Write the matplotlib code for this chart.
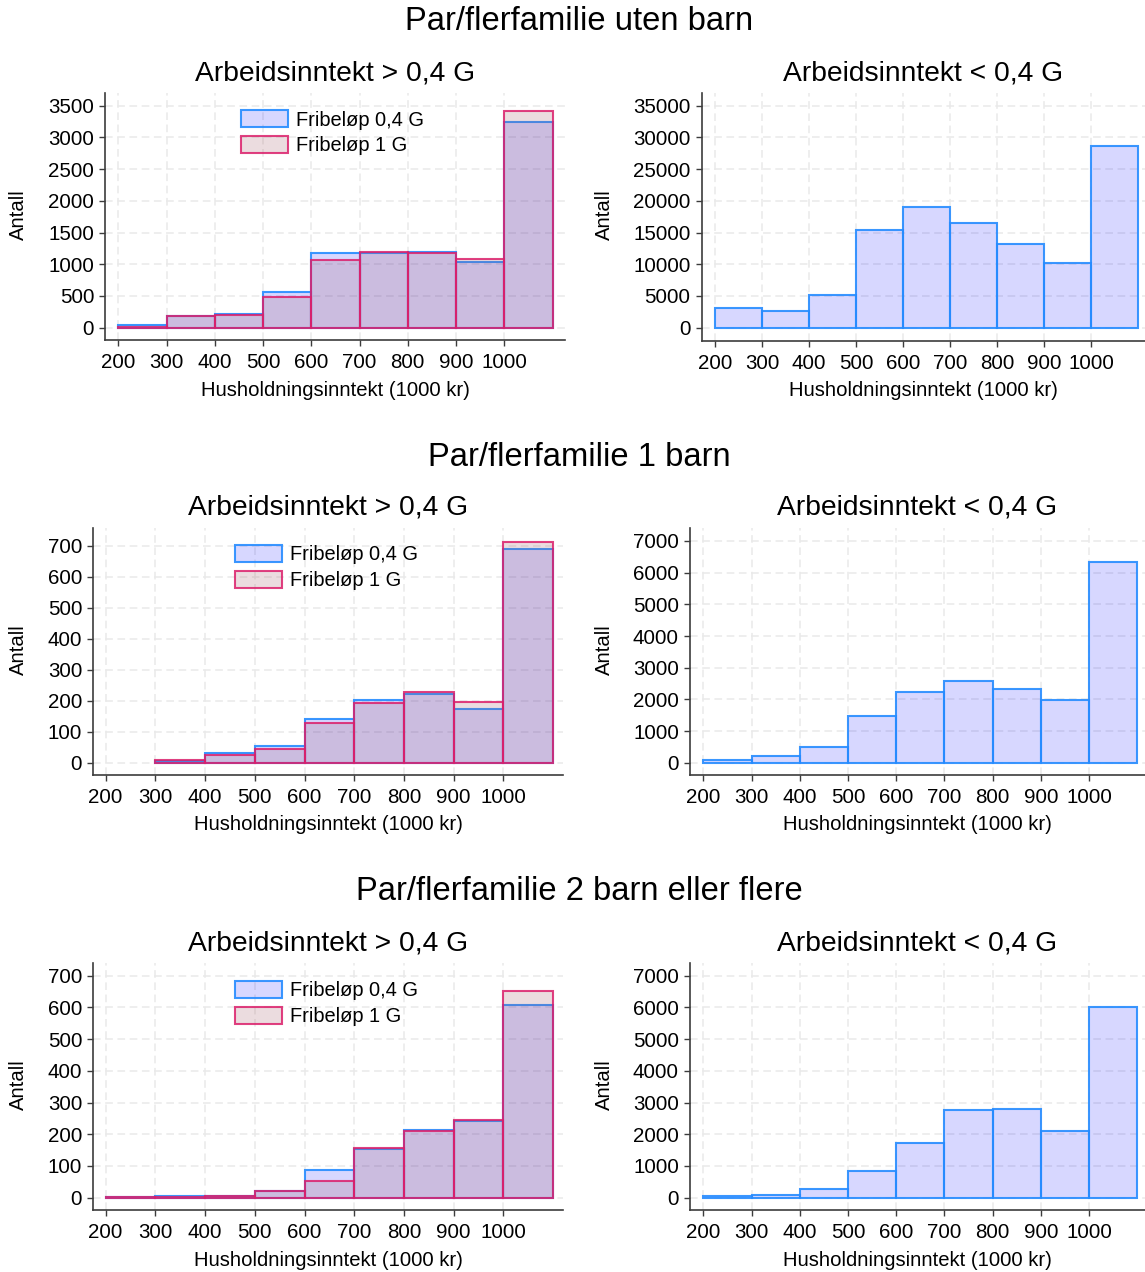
import matplotlib
matplotlib.use("Agg")
import matplotlib.pyplot as plt

plt.rcParams["font.family"] = ["Liberation Sans", "DejaVu Sans"]

W, H = 1145, 1272

# bin left edges (1000 kr), each bin 100 wide
bins = [200, 300, 400, 500, 600, 700, 800, 900, 1000]

# Par/flerfamilie uten barn
uten_hi_04 = [35, 185, 220, 568, 1178, 1185, 1199, 1041, 3244]
uten_hi_1 = [15, 185, 195, 483, 1067, 1190, 1178, 1088, 3417]
uten_lo = [3100, 2680, 5150, 15350, 19080, 16450, 13250, 10200, 28700]
# Par/flerfamilie 1 barn
b1_hi_04 = [0, 6, 30, 55, 140, 202, 220, 174, 688]
b1_hi_1 = [0, 8, 26, 44, 127, 191, 227, 197, 713]
b1_lo = [95, 200, 494, 1461, 2218, 2575, 2333, 1976, 6338]
# Par/flerfamilie 2 barn eller flere
b2_hi_04 = [3, 6, 4, 20, 86, 153, 215, 241, 609]
b2_hi_1 = [3, 2, 6, 20, 54, 158, 209, 245, 652]
b2_lo = [53, 84, 284, 851, 1713, 2775, 2806, 2102, 6022]

sections = ["Par/flerfamilie uten barn", "Par/flerfamilie 1 barn",
            "Par/flerfamilie 2 barn eller flere"]
sub_hi = "Arbeidsinntekt > 0,4 G"
sub_lo = "Arbeidsinntekt < 0,4 G"
lab04 = "Fribeløp 0,4 G"
lab1 = "Fribeløp 1 G"
xlab = "Husholdningsinntekt (1000 kr)"
ylab = "Antall"
xticks = [200, 300, 400, 500, 600, 700, 800, 900, 1000]

BLUE_FC = (0.0, 0.0, 1.0, 0.155)
BLUE_EC = (0.15, 0.55, 1.0, 0.9)
RED_FC = (0.62, 0.33, 0.38, 0.2)
RED_EC = (0.86, 0.12, 0.42, 0.85)
GRID = "#e9e9e9"
SPINE = "#3c3c3c"

fig = plt.figure(figsize=(W / 100, H / 100), dpi=100)


def box(l, r, t, b):
    return [l / W, 1 - b / H, (r - l) / W, (b - t) / H]


def fx(x):
    return x / W


def fy(y):
    return 1 - y / H


def hist(ax, vals, fc, ec, label):
    # empty bins are not drawn (no outline at zero)
    xs = [x for x, v in zip(bins, vals) if v > 0]
    vs = [v for v in vals if v > 0]
    return ax.bar(xs, vs, width=100, align="edge", facecolor=fc,
                  edgecolor=ec, linewidth=1.5, label=label)


# panels: pixel box, xlim, ylim, yticks, data
panels = [
    dict(box=(105.3, 565, 93.3, 340), xlim=(173, 1125.8), ylim=(-194, 3695),
         yt=range(0, 3501, 500), d=(uten_hi_04, uten_hi_1), title=sub_hi,
         ylx=18, leg=(241, 110)),
    dict(box=(701.7, 1145, 93.3, 340.7), xlim=(171.7, 1114.9), ylim=(-2050, 36955),
         yt=range(0, 35001, 5000), d=(uten_lo,), title=sub_lo, ylx=604),
    dict(box=(93.3, 563, 528, 775), xlim=(175.1, 1120), ylim=(-39.7, 757),
         yt=range(0, 701, 100), d=(b1_hi_04, b1_hi_1), title=sub_hi,
         ylx=18, leg=(235, 545)),
    dict(box=(690, 1145, 528, 775), xlim=(172.4, 1116), ylim=(-388, 7410),
         yt=range(0, 7001, 1000), d=(b1_lo,), title=sub_lo, ylx=604),
    dict(box=(93.3, 563, 963, 1210), xlim=(175.1, 1120), ylim=(-38.8, 740),
         yt=range(0, 701, 100), d=(b2_hi_04, b2_hi_1), title=sub_hi,
         ylx=18, leg=(235, 981)),
    dict(box=(690, 1145, 963, 1210), xlim=(172.4, 1116), ylim=(-388, 7400),
         yt=range(0, 7001, 1000), d=(b2_lo,), title=sub_lo, ylx=604),
]

for i, p in enumerate(panels):
    l, r, t, b = p["box"]
    ax = fig.add_axes(box(l, r, t, b))
    ax.set_xlim(*p["xlim"])
    ax.set_ylim(*p["ylim"])
    ax.set_xticks(xticks)
    ax.set_yticks(list(p["yt"]))
    ax.grid(True, color=GRID, lw=1.1, ls=(0, (5, 3)))
    ax.set_axisbelow(True)
    for s in ("top", "right"):
        ax.spines[s].set_visible(False)
    for s in ("left", "bottom"):
        ax.spines[s].set_color(SPINE)
        ax.spines[s].set_linewidth(1.2)
    ax.tick_params(direction="out", length=4.5, width=1.0, color=SPINE,
                   labelsize=14.8)
    ax.tick_params(axis="x", pad=5)

    h04 = hist(ax, p["d"][0], BLUE_FC, BLUE_EC, lab04)
    if len(p["d"]) > 1:
        h1 = hist(ax, p["d"][1], RED_FC, RED_EC, lab1)
        lx, ly = p["leg"]
        ax.legend(handles=[h04, h1], loc="upper left",
                  bbox_to_anchor=(fx(lx), fy(ly)),
                  bbox_transform=fig.transFigure, frameon=False,
                  fontsize=14.4, borderpad=0, borderaxespad=0,
                  handlelength=2.35, handleheight=0.95, handletextpad=0.4,
                  labelspacing=0.3)

    # subplot title, axis labels
    fig.text(fx((l + r) / 2), fy(t - 20), p["title"], ha="center",
             va="center", fontsize=20.3)
    fig.text(fx((l + r) / 2), fy(b + 50), xlab, ha="center", va="center",
             fontsize=14.6)
    fig.text(fx(p["ylx"]), fy((t + b) / 2 - 2), ylab, ha="center",
             va="center", rotation=90, fontsize=14.6)

for txt, y in zip(sections, (22, 458, 892)):
    fig.text(fx(579), fy(y), txt, ha="center", va="center", fontsize=23.6)

fig.savefig("out.png", dpi=100)
